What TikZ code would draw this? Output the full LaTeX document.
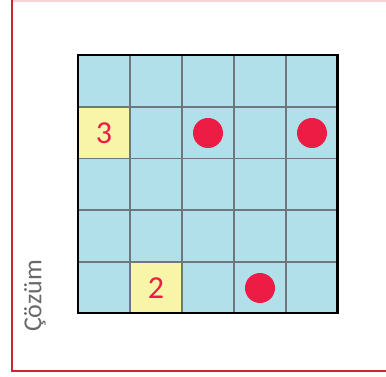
\documentclass[tikz,border=0pt]{standalone}
\usepackage{fontspec}
\setmainfont{Carlito}
\usepackage{xcolor}
\definecolor{cellblue}{RGB}{177,223,234}
\definecolor{cellyellow}{RGB}{248,245,168}
\definecolor{dotred}{RGB}{236,28,69}
\definecolor{framered}{RGB}{200,40,50}
\definecolor{gridgray}{RGB}{110,120,122}
\definecolor{labelgray}{RGB}{105,105,108}

\begin{document}
\begin{tikzpicture}[x=1pt, y=-1pt,
    num/.style={font=\fontsize{32}{32}\selectfont, text=dotred, inner sep=0pt},
    gridline/.style={gridgray, line width=1.3pt}]
  \useasboundingbox (0,0) rectangle (386,376);
  % frame
  \draw[framered!20, line width=1.5pt] (12,0.75) -- (386,0.75);
  \draw[framered, line width=2pt] (12,0) -- (12,371) -- (386,371);
  % board
  \fill[cellblue] (78,55) rectangle (337.5,313);
  \fill[cellyellow] (78,107) rectangle (130,158.5);
  \fill[cellyellow] (130,262) rectangle (182,313);
  \foreach \x in {130,182,234,286}
    \draw[gridline] (\x,55) -- (\x,313);
  \foreach \y in {107,158.5,210,262}
    \draw[gridline] (78,\y) -- (337.5,\y);
  \draw[black, line width=2.4pt] (78,55) rectangle (337.5,313);
  \node[num] (three) at (104,133) {3};
  \node[num] (two) at (156,288) {2};
  % dots
  \foreach \x/\y in {208/133,312/133,260/288}
    \fill[dotred] (\x,\y) circle (15);
  \node[rotate=90, text=labelgray, font=\fontsize{26}{26}\selectfont] (cozum) at (35,296) {Çözüm};
\end{tikzpicture}
\end{document}
